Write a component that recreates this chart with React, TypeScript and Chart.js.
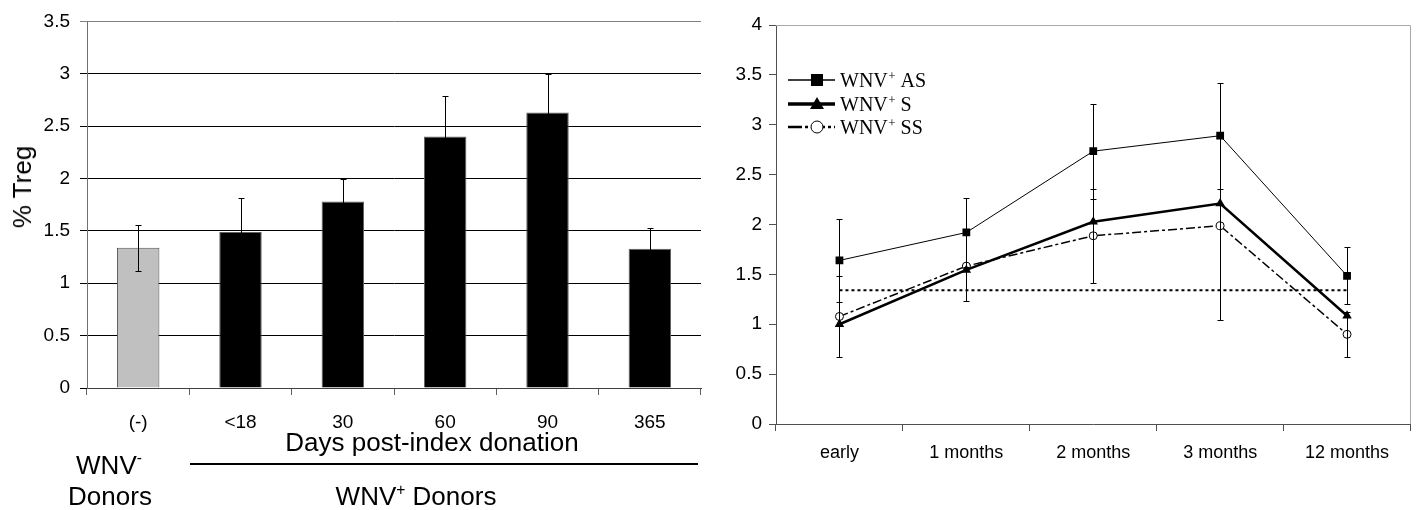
import React, { useEffect, useRef } from 'react';
import { Chart, registerables } from 'chart.js';

Chart.register(...registerables);

const SANS = "'Liberation Sans', Arial, Helvetica, sans-serif";
const SERIF = "'Liberation Serif', 'Times New Roman', serif";

// ---------- Left panel data ----------
const barCategories = ['(-)', '<18', '30', '60', '90', '365'];
const barValues = [1.34, 1.49, 1.78, 2.4, 2.63, 1.33];
const barErrors = [0.22, 0.32, 0.22, 0.39, 0.365, 0.2];
const barFill = ['#c0c0c0', '#000000', '#000000', '#000000', '#000000', '#000000'];
const barAxisMax = 3.5;
const barAxisStep = 0.5;

// ---------- Right panel data ----------
const lineCategories = ['early', '1 months', '2 months', '3 months', '12 months'];
const asValues = [1.64, 1.92, 2.735, 2.89, 1.486];
const asErrors = [0.42, 0.35, 0.475, 0.53, 0.285];
const sValues = [1.0, 1.545, 2.027, 2.211, 1.085];
const ssValues = [1.078, 1.583, 1.887, 1.987, 0.899];
const ssErrors = [0.405, 0.347, 0.471, 0.94, 0.225];
const negMeanLine = [1.34, 1.34, 1.34, 1.34, 1.34];
const lineAxisMax = 4;
const lineAxisStep = 0.5;
const legendLabels = ['AS', 'S', 'SS'];

const fmtTick = (v: any) => String(Math.round(Number(v) * 100) / 100);

const errorBarPlugin = {
  id: 'errorBars',
  afterDatasetsDraw(chart: any) {
    const ctx = chart.ctx;
    const yScale = chart.scales.y;
    chart.data.datasets.forEach((ds: any, i: number) => {
      if (!ds.errors) return;
      const meta = chart.getDatasetMeta(i);
      const cap = ds.errorCap ?? 3;
      ctx.save();
      ctx.strokeStyle = '#000';
      ctx.lineWidth = 1;
      ctx.setLineDash([]);
      meta.data.forEach((el: any, j: number) => {
        const e = ds.errors[j];
        if (e == null) return;
        const v = ds.data[j];
        const x = Math.round(el.x) + 0.5;
        const yTop = Math.round(yScale.getPixelForValue(v + e)) + 0.5;
        const yBot = Math.round(yScale.getPixelForValue(v - e)) + 0.5;
        ctx.beginPath();
        ctx.moveTo(x, yTop);
        ctx.lineTo(x, yBot);
        ctx.moveTo(x - cap, yTop);
        ctx.lineTo(x + cap, yTop);
        ctx.moveTo(x - cap, yBot);
        ctx.lineTo(x + cap, yBot);
        ctx.stroke();
      });
      ctx.restore();
    });
  },
};

const framePlugin = {
  id: 'frame',
  afterDraw(chart: any) {
    const { ctx, chartArea } = chart;
    ctx.save();
    ctx.strokeStyle = '#a8a8a8';
    ctx.lineWidth = 1;
    ctx.beginPath();
    const t = Math.round(chartArea.top) + 0.5;
    const r = Math.round(chartArea.right) - 0.5;
    ctx.moveTo(chartArea.left, t);
    ctx.lineTo(r, t);
    ctx.lineTo(r, chartArea.bottom);
    ctx.stroke();
    ctx.restore();
  },
};

const legendPlugin = {
  id: 'lineLegend',
  afterDraw(chart: any) {
    const { ctx, chartArea } = chart;
    const x0 = chartArea.left + 12;
    const x1 = chartArea.left + 59;
    const mx = chartArea.left + 41;
    const tx = chartArea.left + 64;
    const rows = [
      { lw: 1.3, dash: [] as number[], marker: 'rect', dy: 55 },
      { lw: 3.5, dash: [] as number[], marker: 'tri', dy: 79 },
      { lw: 2.5, dash: [14, 3, 3, 3], marker: 'circ', dy: 102 },
    ];
    rows.forEach((row, k) => {
      const y = chartArea.top + row.dy;
      ctx.save();
      ctx.strokeStyle = '#000';
      ctx.fillStyle = '#000';
      ctx.lineWidth = row.lw;
      ctx.setLineDash(row.dash);
      ctx.beginPath();
      ctx.moveTo(x0, y);
      ctx.lineTo(x1, y);
      ctx.stroke();
      ctx.setLineDash([]);
      if (row.marker === 'rect') {
        ctx.fillRect(mx - 6, y - 6, 12, 12);
      } else if (row.marker === 'tri') {
        ctx.beginPath();
        ctx.moveTo(mx, y - 7);
        ctx.lineTo(mx + 7, y + 5);
        ctx.lineTo(mx - 7, y + 5);
        ctx.closePath();
        ctx.fill();
      } else {
        ctx.beginPath();
        ctx.arc(mx, y, 6, 0, Math.PI * 2);
        ctx.fillStyle = '#fff';
        ctx.fill();
        ctx.lineWidth = 1;
        ctx.stroke();
        ctx.fillStyle = '#000';
      }
      const base = y + 7;
      ctx.textBaseline = 'alphabetic';
      ctx.textAlign = 'left';
      ctx.font = `20px ${SERIF}`;
      ctx.fillText('WNV', tx, base);
      const w1 = ctx.measureText('WNV').width;
      ctx.font = `13px ${SERIF}`;
      ctx.fillText('+', tx + w1 + 0.5, base - 7);
      const w2 = ctx.measureText('+').width;
      ctx.font = `20px ${SERIF}`;
      ctx.fillText(' ' + legendLabels[k], tx + w1 + w2 + 0.5, base);
      ctx.restore();
    });
  },
};

export default function App() {
  const leftRef = useRef<HTMLCanvasElement>(null);
  const rightRef = useRef<HTMLCanvasElement>(null);

  useEffect(() => {
    Chart.defaults.font.family = SANS;
    Chart.defaults.color = '#000';

    const left = new Chart(leftRef.current!, {
      type: 'bar',
      data: {
        labels: barCategories,
        datasets: [
          {
            data: barValues,
            backgroundColor: barFill,
            borderColor: ['#505050', '#606060', '#606060', '#606060', '#606060', '#606060'],
            borderWidth: 1,
            barPercentage: 0.415,
            categoryPercentage: 1,
            errors: barErrors,
            errorCap: 3,
          } as any,
        ],
      },
      options: {
        animation: false,
        responsive: false,
        maintainAspectRatio: false,
        layout: { padding: { left: 0, top: 18, right: 9, bottom: 0 } },
        plugins: { legend: { display: false }, tooltip: { enabled: false } },
        scales: {
          x: {
            offset: true,
            grid: { offset: true, drawOnChartArea: false, drawTicks: true, tickLength: 7, color: '#606060' },
            border: { color: '#404040', width: 1 },
            ticks: { font: { size: 19 }, padding: 16, color: '#000', maxRotation: 0 },
            afterFit: (s: any) => { s.height = 122; },
          },
          y: {
            min: 0,
            max: barAxisMax,
            ticks: { stepSize: barAxisStep, font: { size: 19 }, padding: 10, color: '#000', callback: fmtTick },
            grid: {
              color: (c: any) => (c.tick && c.tick.value === barAxisMax ? '#808080' : '#000'),
              tickLength: 7,
              drawTicks: true,
            },
            border: { color: '#707070', width: 1 },
            afterFit: (s: any) => { s.width = 87; },
          },
        },
      },
      plugins: [errorBarPlugin],
    });

    const right = new Chart(rightRef.current!, {
      type: 'line',
      data: {
        labels: lineCategories,
        datasets: [
          {
            data: asValues,
            borderColor: '#000',
            borderWidth: 1,
            pointStyle: 'rect',
            pointRadius: 5.5,
            pointBackgroundColor: '#000',
            pointBorderColor: '#000',
            pointBorderWidth: 0,
            errors: asErrors,
            errorCap: 3,
          } as any,
          {
            data: sValues,
            borderColor: '#000',
            borderWidth: 2.5,
            pointStyle: 'triangle',
            pointRadius: 5.5,
            pointBackgroundColor: '#000',
            pointBorderColor: '#000',
            pointBorderWidth: 0,
          } as any,
          {
            data: ssValues,
            borderColor: '#000',
            borderWidth: 1.5,
            borderDash: [9, 3, 3, 3],
            pointStyle: 'circle',
            pointRadius: 4,
            pointBackgroundColor: '#fff',
            pointBorderColor: '#000',
            pointBorderWidth: 1,
            errors: ssErrors,
            errorCap: 3,
          } as any,
          {
            data: negMeanLine,
            borderColor: '#000',
            borderWidth: 2,
            borderDash: [3, 3],
            pointRadius: 0,
          } as any,
        ],
      },
      options: {
        animation: false,
        responsive: false,
        maintainAspectRatio: false,
        layout: { padding: { left: 0, top: 25, right: 2, bottom: 0 } },
        plugins: { legend: { display: false }, tooltip: { enabled: false } },
        scales: {
          x: {
            offset: true,
            grid: { offset: true, drawOnChartArea: false, drawTicks: true, tickLength: 7, color: '#505050' },
            border: { color: '#505050', width: 1 },
            ticks: { font: { size: 18 }, padding: 11, color: '#000', maxRotation: 0 },
            afterFit: (s: any) => { s.height = 86; },
          },
          y: {
            min: 0,
            max: lineAxisMax,
            ticks: { stepSize: lineAxisStep, font: { size: 19 }, padding: 7, color: '#000', callback: fmtTick },
            grid: { drawOnChartArea: false, drawTicks: true, tickLength: 7, color: '#505050' },
            border: { color: '#505050', width: 1 },
            afterFit: (s: any) => { s.width = 66; },
          },
        },
      },
      plugins: [errorBarPlugin, framePlugin, legendPlugin],
    });

    return () => {
      left.destroy();
      right.destroy();
    };
  }, []);

  const txt: React.CSSProperties = {
    position: 'absolute',
    fontFamily: SANS,
    fontSize: 26,
    lineHeight: '26px',
    height: 26,
    whiteSpace: 'nowrap',
    color: '#000',
    transform: 'translateX(-50%)',
  };
  const sup = (s: string, raise: string): React.ReactNode => (
    <span style={{ fontSize: '0.6em', position: 'relative', top: raise }}>{s}</span>
  );

  return (
    <div style={{ position: 'absolute', left: 0, top: 0, width: 1416, height: 510, background: '#fff', overflow: 'hidden' }}>
      <canvas ref={leftRef} width={710} height={510} style={{ position: 'absolute', left: 0, top: 0, width: 710, height: 510 }} />
      <canvas ref={rightRef} width={706} height={510} style={{ position: 'absolute', left: 710, top: 0, width: 706, height: 510 }} />
      <div
        style={{
          position: 'absolute',
          left: 22,
          top: 187,
          fontFamily: SANS,
          fontSize: 26,
          lineHeight: '26px',
          whiteSpace: 'nowrap',
          transform: 'translate(-50%, -50%) rotate(-90deg)',
        }}
      >
        % Treg
      </div>
      <div style={{ ...txt, left: 432, top: 429 }}>Days post-index donation</div>
      <div style={{ position: 'absolute', left: 190, top: 463, width: 508, height: 2, background: '#000' }} />
      <div style={{ ...txt, left: 109, top: 452 }}>WNV{sup('-', '-0.7em')}</div>
      <div style={{ ...txt, left: 110, top: 483 }}>Donors</div>
      <div style={{ ...txt, left: 416, top: 483 }}>WNV{sup('+', '-0.62em')} Donors</div>
    </div>
  );
}
